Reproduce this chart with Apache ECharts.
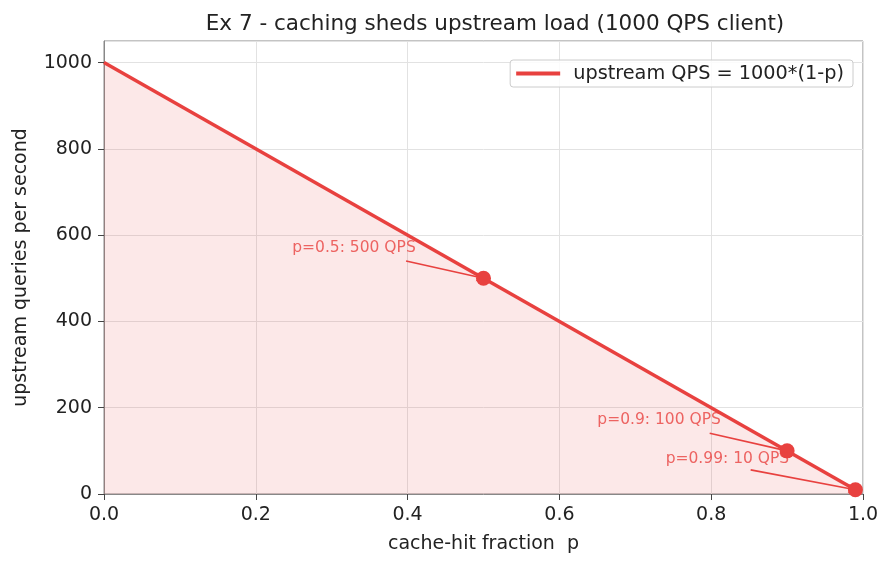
<!DOCTYPE html>
<html>
<head>
<meta charset="utf-8">
<script src="https://cdn.jsdelivr.net/npm/echarts@6/dist/echarts.min.js"></script>
<style>
  html, body { margin: 0; padding: 0; background: #fff; }
  #chart { width: 892px; height: 567px; }
</style>
</head>
<body>
<div id="chart"></div>
<script>
// curve: upstream QPS vs cache-hit fraction
const curveP = [0, 0.99];
const curveQps = [1000, 10];

// highlighted points
const markP = [0.5, 0.9, 0.99];
const markQps = [500, 100, 10];

// annotation labels, text anchor and arrow tail (data coords)
const noteText = ['p=0.5: 500 QPS', 'p=0.9: 100 QPS', 'p=0.99: 10 QPS'];
const noteTextP = [0.248, 0.65, 0.74];
const noteTextQps = [571, 172, 81];
const noteTailP = [0.398, 0.798, 0.852];
const noteTailQps = [540, 141, 56];

const RED = '#e8413f';
const FONT = 'DejaVu Sans';

const chart = echarts.init(document.getElementById('chart'));

const option = {
  animation: false,
  textStyle: { fontFamily: FONT },
  title: {
    text: 'Ex 7 - caching sheds upstream load (1000 QPS client)',
    left: 490, top: 8, textAlign: 'center',
    textStyle: { fontFamily: FONT, fontSize: 21.5, fontWeight: 'normal', color: '#222' }
  },
  legend: {
    right: 39, top: 60,
    data: [{ name: 'upstream QPS = 1000*(1-p)', icon: 'rect' }],
    itemWidth: 44, itemHeight: 4, itemGap: 10,
    padding: [4, 9, 4, 6],
    borderColor: '#ccc', borderWidth: 1, borderRadius: 3,
    backgroundColor: 'rgba(255,255,255,0.85)',
    textStyle: { fontFamily: FONT, fontSize: 19.3, color: '#222', padding: [0, 0, 0, 8] }
  },
  grid: {
    left: 104, right: 29, top: 41, bottom: 73,
    show: true, borderColor: '#888', borderWidth: 1, backgroundColor: '#fff'
  },
  xAxis: {
    type: 'value', min: 0, max: 1, interval: 0.2,
    name: 'cache-hit fraction  p', nameLocation: 'middle', nameGap: 41,
    nameTextStyle: { fontFamily: FONT, fontSize: 19, color: '#222' },
    axisLine: { show: true, onZero: false, lineStyle: { color: '#888' } },
    axisTick: { show: true, length: 6, lineStyle: { color: '#444' } },
    axisLabel: { fontFamily: FONT, fontSize: 19, color: '#222', margin: 12,
      formatter: v => v.toFixed(1) },
    splitLine: { show: true, lineStyle: { color: '#e2e2e2' } }
  },
  yAxis: {
    type: 'value', min: 0, max: 1050, interval: 200,
    name: 'upstream queries per second', nameLocation: 'middle', nameGap: 73,
    nameTextStyle: { fontFamily: FONT, fontSize: 19, color: '#222' },
    axisLine: { show: true, onZero: false, lineStyle: { color: '#888' } },
    axisTick: { show: true, length: 6, lineStyle: { color: '#444' } },
    axisLabel: { fontFamily: FONT, fontSize: 19, color: '#222', margin: 12,
      showMaxLabel: false, formatter: v => String(v) },
    splitLine: { show: true, lineStyle: { color: '#e2e2e2' } }
  },
  series: [
    {
      name: 'upstream QPS = 1000*(1-p)',
      type: 'line',
      data: curveP.map((p, i) => [p, curveQps[i]]),
      symbol: 'none',
      lineStyle: { color: RED, width: 3.5 },
      itemStyle: { color: RED },
      areaStyle: { color: 'rgba(232,65,63,0.12)', opacity: 1, origin: 'start' },
      z: 3
    },
    {
      name: 'points',
      type: 'scatter',
      data: markP.map((p, i) => [p, markQps[i]]),
      symbolSize: 15,
      itemStyle: { color: RED, opacity: 1 },
      z: 5
    },
    {
      name: 'arrows',
      type: 'lines',
      coordinateSystem: 'cartesian2d',
      data: markP.map((p, i) => ({
        coords: [[noteTailP[i], noteTailQps[i]], [p, markQps[i]]]
      })),
      symbol: ['none', 'arrow'],
      symbolSize: 7,
      lineStyle: { color: RED, width: 1.6, opacity: 1 },
      z: 4
    },
    {
      name: 'notes',
      type: 'scatter',
      data: noteText.map((t, i) => ({ value: [noteTextP[i], noteTextQps[i]], name: t })),
      symbolSize: 0,
      label: {
        show: true, position: [0, 0], align: 'left', verticalAlign: 'middle',
        formatter: p => p.name,
        fontFamily: FONT, fontSize: 15.5, color: RED
      },
      silent: true,
      z: 6
    }
  ]
};

chart.setOption(option);
</script>
</body>
</html>
